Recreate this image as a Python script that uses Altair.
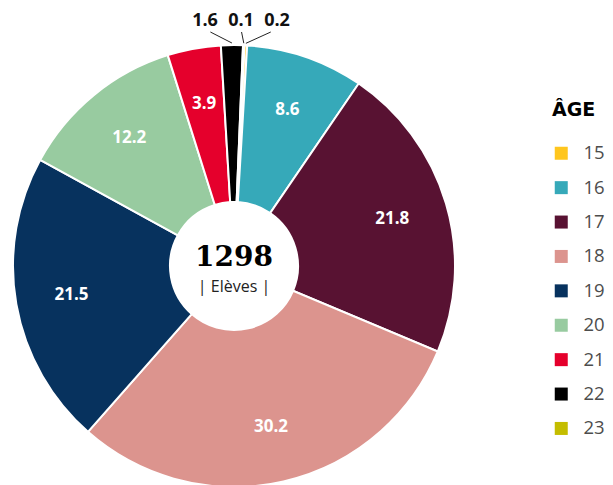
import math
import altair as alt
import pandas as pd

# ---- data ----
ages = ["15", "16", "17", "18", "19", "20", "21", "22", "23"]
values = [0.2, 8.6, 21.8, 30.2, 21.5, 12.2, 3.9, 1.6, 0.1]
colors = ["#FFC61E", "#36A9B9", "#581232", "#DC948E", "#07325E",
          "#98CBA0", "#E5002C", "#000000", "#C4BD00"]
total_students = "1298"
center_caption = "| Elèves |"
legend_title = "ÂGE"

# ---- layout constants ----
W, H = 597, 477
CX, CY = 226, 258
R_OUT, R_IN = 221, 64
R_LABEL = 165
START = math.radians(2.7)
INSIDE_MIN = 3.0

df = pd.DataFrame({"age": ages, "value": values, "idx": range(len(ages))})
df["label"] = [f"{v:.1f}" if v >= INSIDE_MIN else "" for v in values]

# small slices: outside labels with leader lines
tot = sum(values)
cum = 0.0
rows = []
for a, v in zip(ages, values):
    mid = cum + v / 2
    cum += v
    if v >= INSIDE_MIN:
        continue
    ang = START + mid / tot * 2 * math.pi
    ex = CX + (R_OUT + 2) * math.sin(ang)
    ey = CY - (R_OUT + 2) * math.cos(ang)
    rows.append({"age": a, "text": f"{v:.1f}", "ex": ex, "ey": ey})
small = pd.DataFrame(rows)
small = small.sort_values("ex").reset_index(drop=True)
small["lx"] = [CX + 7 + (i - 1) * 36 for i in range(len(small))]
small["ly"] = 13
small["bx"] = small["lx"] + 0.2 * (small["ex"] - small["lx"])
small["by"] = 24

color_scale = alt.Scale(domain=ages, range=colors)
theta_scale = alt.Scale(range=[START, START + 2 * math.pi])

base = alt.Chart(df)

arcs = base.mark_arc(
    outerRadius=R_OUT, innerRadius=R_IN, stroke="white", strokeWidth=2,
    x=CX, y=CY,
).encode(
    theta=alt.Theta("value:Q", stack=True, scale=theta_scale),
    color=alt.Color(
        "age:N", scale=color_scale, sort=ages,
        legend=alt.Legend(
            title=legend_title, orient="none", legendX=544, legendY=93,
            titleFont="DejaVu Sans", titleFontSize=19, titleFontWeight=900,
            titleColor="#000000", titlePadding=24,
            labelFont="Open Sans", labelFontSize=18.5, labelColor="#4d4d4d",
            labelOffset=13, symbolType="square", symbolSize=169,
            symbolStrokeWidth=0, rowPadding=15.4, padding=0,
        ),
    ),
    order=alt.Order("idx:Q"),
)

inner_labels = base.mark_text(
    radius=R_LABEL, x=CX, y=CY, font="Open Sans", fontWeight="bold",
    fontSize=17, color="white", align="center", baseline="middle",
).encode(
    theta=alt.Theta("value:Q", stack=True, scale=theta_scale),
    text="label:N",
    order=alt.Order("idx:Q"),
)

xs = alt.Scale(domain=[0, W], range=[0, W], nice=False, zero=False)
ys = alt.Scale(domain=[0, H], range=[0, H], nice=False, zero=False)

leaders = alt.Chart(small).mark_rule(color="#222222", strokeWidth=1).encode(
    x=alt.X("bx:Q", scale=xs, axis=None),
    y=alt.Y("by:Q", scale=ys, axis=None),
    x2="ex:Q",
    y2="ey:Q",
)

out_labels = alt.Chart(small).mark_text(
    font="Open Sans", fontWeight="bold", fontSize=18, color="#111111",
    align="center", baseline="middle",
).encode(
    x=alt.X("lx:Q", scale=xs, axis=None),
    y=alt.Y("ly:Q", scale=ys, axis=None),
    text="text:N",
)

center_df = pd.DataFrame({"t": [total_students], "c": [center_caption]})
center_num = alt.Chart(center_df).mark_text(
    x=CX, y=CY - 8, font="DejaVu Serif", fontWeight="bold", fontSize=28,
    color="#000000", align="center", baseline="middle",
).encode(text="t:N")
center_cap = alt.Chart(center_df).mark_text(
    x=CX, y=CY + 21, font="Open Sans", fontSize=16, color="#222222",
    align="center", baseline="middle",
).encode(text="c:N")

chart = alt.layer(arcs, inner_labels, leaders, out_labels, center_num, center_cap).properties(
    width=W, height=H, padding=0, autosize=alt.AutoSizeParams(type="none"),
).configure_view(stroke=None)

chart.save("out.html", embed_options={"renderer": "svg", "actions": False})
